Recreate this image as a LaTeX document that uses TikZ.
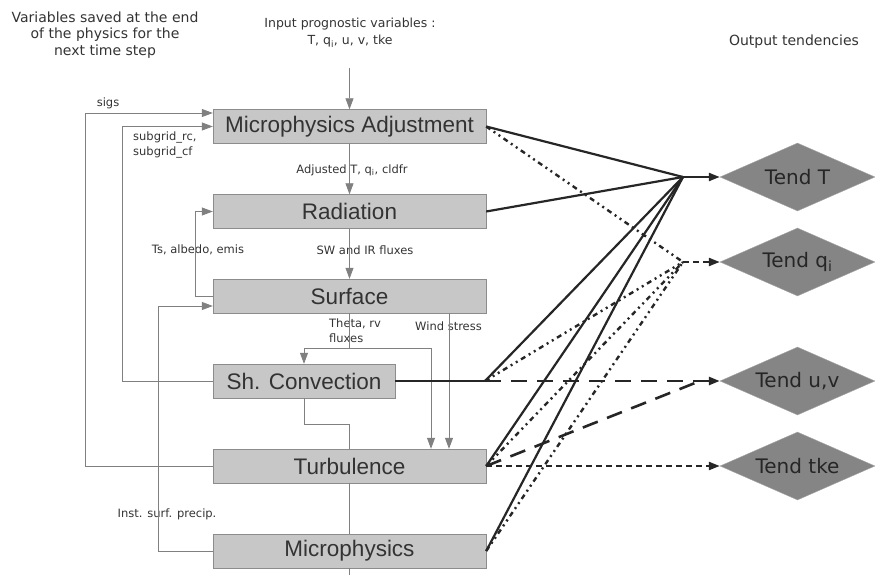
\documentclass[tikz,border=0pt]{standalone}
\usepackage{fontspec}
\setmainfont{Liberation Sans}
\newfontfamily\annfont{DejaVu Sans}
\usetikzlibrary{arrows.meta}
\usetikzlibrary{shapes.geometric}

\begin{document}
\begin{tikzpicture}[x=1pt,y=-1pt]
  \tikzstyle{box} = [rectangle, minimum width=273pt, minimum height=34pt, inner sep=0pt, text centered, draw=black!45, fill=black!22, text=black!80, font=\fontsize{22.5}{24}\selectfont]
  \tikzstyle{tend} = [diamond, aspect=2.3, minimum width=155pt, minimum height=68pt, inner sep=0pt, draw=black!35, fill=black!48, text=black!85, font=\annfont\fontsize{20}{22}\selectfont]
  \tikzstyle{note} = [inner sep=1pt, text=black!80, align=center, font=\annfont\fontsize{14}{16.5}\selectfont]
  \tikzstyle{small} = [inner sep=1pt, text=black!80, font=\annfont\fontsize{11.5}{15}\selectfont]
  \tikzstyle{flow} = [draw=black!50, line width=0.8pt]
  \tikzstyle{arr} = [-{Triangle[length=11pt,width=8pt]}]
  \tikzstyle{tl} = [draw=black!85, line width=2.2pt]
  \tikzstyle{ql} = [draw=black!85, line width=2.4pt, dash pattern=on 5pt off 4pt on 2pt off 4pt on 2pt off 4pt]
  \tikzstyle{ul} = [draw=black!85, line width=2.6pt, dash pattern=on 16pt off 10pt]
  \tikzstyle{kl} = [draw=black!85, line width=2.2pt, dash pattern=on 6pt off 4pt]

  \useasboundingbox (0,0) rectangle (875,575);

  \node[note] (vars) at (105,35) {Variables saved at the end\\of the physics  for the\\next time step};
  \node[note, font=\annfont\fontsize{12.5}{17}\selectfont] (inp) at (350,33) {Input prognostic variables :\\T, q\textsubscript{i}, u, v, tke};
  \node[note] (outp) at (794,42) {Output tendencies};

  \node[box] (MA) at (349.5,126.5) {Microphysics Adjustment};
  \node[box] (Rad) at (349.5,211.5) {Radiation};
  \node[box] (Surf) at (349.5,296) {Surface};
  \node[box, minimum width=182pt] (SC) at (304,381) {Sh. Convection};
  \node[box] (Turb) at (349.5,466) {Turbulence};
  \node[box] (Micro) at (349.5,551) {Microphysics};

  \node[tend] (TT) at (797.5,177) {Tend T};
  \node[tend] (TQ) at (797.5,262) {Tend q\textsubscript{i}};
  \node[tend] (TU) at (797.5,381) {Tend u,v};
  \node[tend] (TK) at (797.5,466) {Tend tke};

  \coordinate (intop) at (349.5,68);
  \coordinate (split) at (349.5,348);
  \coordinate (scjoin) at (304,424);
  \coordinate (bottom) at (349.5,575);
  \coordinate (hubT) at (683,177);
  \coordinate (hubQ) at (683,262);
  \coordinate (hubU) at (485,381);
  \coordinate (hubK) at (700,381);

  \node[small] (lblSigs) at (108,103) {sigs};
  \node[small, anchor=north west, align=left] (lblSub) at (132,131) {subgrid\_rc,\\subgrid\_cf};
  \node[small] (lblAdj) at (352,170) {Adjusted T, q\textsubscript{i}, cldfr};
  \node[small] (lblTs) at (198,250) {Ts, albedo, emis};
  \node[small] (lblSW) at (365,250) {SW and IR fluxes};
  \node[small, anchor=north west, align=left] (lblTh) at (328,318) {Theta, rv\\fluxes};
  \node[small, anchor=west] (lblWind) at (414,326) {Wind stress};
  \node[small] (lblInst) at (167,514) {Inst. surf. precip.};

  \draw[flow,arr] (Turb.west) -- ++(-127,0) |- ([yshift=13.5pt]MA.west);
  \draw[flow,arr] (SC.west) -- ++(-90,0) |- (MA.west);
  \draw[flow,arr] (Surf.west) -- ++(-17,0) |- (Rad.west);
  \draw[flow,arr] (Micro.west) -- ++(-54,0) |- ([yshift=-10pt]Surf.west);

  \draw[flow,arr] (intop) -- (MA.north);
  \draw[flow,arr] (MA.south) -- (Rad.north);
  \draw[flow,arr] (Rad.south) -- (Surf.north);
  \draw[flow] (Surf.south) -- (split);
  \draw[flow,arr] (split) -| (SC.north);
  \draw[flow,arr] (split) -| ([xshift=81.5pt]Turb.north);
  \draw[flow,arr] ([xshift=99.5pt]Surf.south) -- ([xshift=99.5pt]Turb.north);
  \draw[flow] (SC.south) -- (scjoin) -| (Turb.north);
  \draw[flow] (Turb.south) -- (Micro.north);
  \draw[flow] (Micro.south) -- (bottom);

  \draw[ql] (MA.east) -- (hubQ);
  \draw[ql] (hubU) -- (hubQ);
  \draw[ql] (Turb.east) -- (hubQ);
  \draw[ql] (Micro.east) -- (hubQ);
  \draw[kl,arr] (hubQ) -- (TQ.west);

  \draw[tl] (MA.east) -- (hubT);
  \draw[tl] (Rad.east) -- (hubT);
  \draw[tl] (hubU) -- (hubT);
  \draw[tl] (Turb.east) -- (hubT);
  \draw[tl] (Micro.east) -- (hubT);
  \draw[tl,arr] (hubT) -- (TT.west);

  \draw[tl] (SC.east) -- (hubU);
  \draw[ul,arr] (hubU) -- (TU.west);
  \draw[ul] (Turb.east) -- (hubK);
  \draw[kl,arr] (Turb.east) -- (TK.west);
\end{tikzpicture}
\end{document}
